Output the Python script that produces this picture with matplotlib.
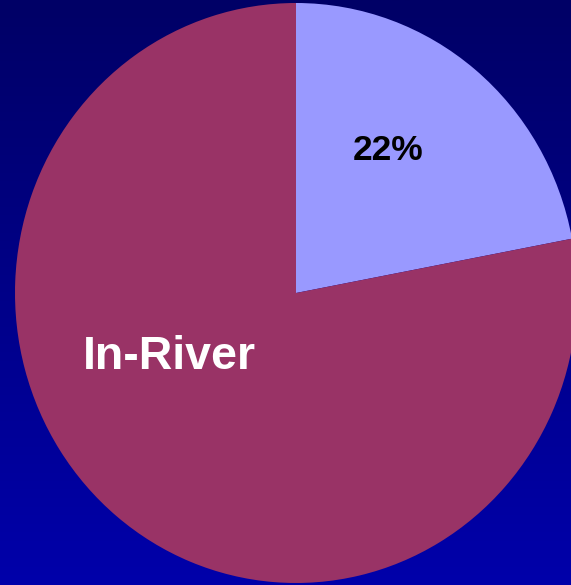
import matplotlib
matplotlib.use("Agg")
import matplotlib.pyplot as plt
import numpy as np
from matplotlib.colors import LinearSegmentedColormap

labels = ["22%", "In-River"]
shares = [22, 78]
colors = ["#9999FF", "#993366"]

fig = plt.figure(figsize=(5.71, 5.85), dpi=100)

# background gradient, dark navy on top to brighter blue at the bottom
bg = fig.add_axes([0, 0, 1, 1])
bg.set_axis_off()
grad = np.linspace(0, 1, 256).reshape(-1, 1)
cmap = LinearSegmentedColormap.from_list("bg", ["#000066", "#0000AA"])
bg.imshow(grad, aspect="auto", cmap=cmap, extent=[0, 1, 0, 1], origin="upper")

ax = fig.add_axes([0, 0, 1, 1])
ax.set_axis_off()
ax.patch.set_alpha(0)
ax.pie(shares, colors=colors, startangle=90, counterclock=False,
       wedgeprops=dict(linewidth=0))
ax.set_aspect("auto")
ax.set_xlim(-296 / 281, (571 - 296) / 281)
ax.set_ylim((293 - 585) / 290, 293 / 290)

ax.text(0.327, 0.493, labels[0], ha="center", va="center", fontsize=25.5,
        fontweight="bold", family="Liberation Sans", color="black")
ax.text(-0.452, -0.222, labels[1], ha="center", va="center", fontsize=33.5,
        fontweight="bold", family="Liberation Sans", color="white")

fig.savefig("out.png", dpi=100)
